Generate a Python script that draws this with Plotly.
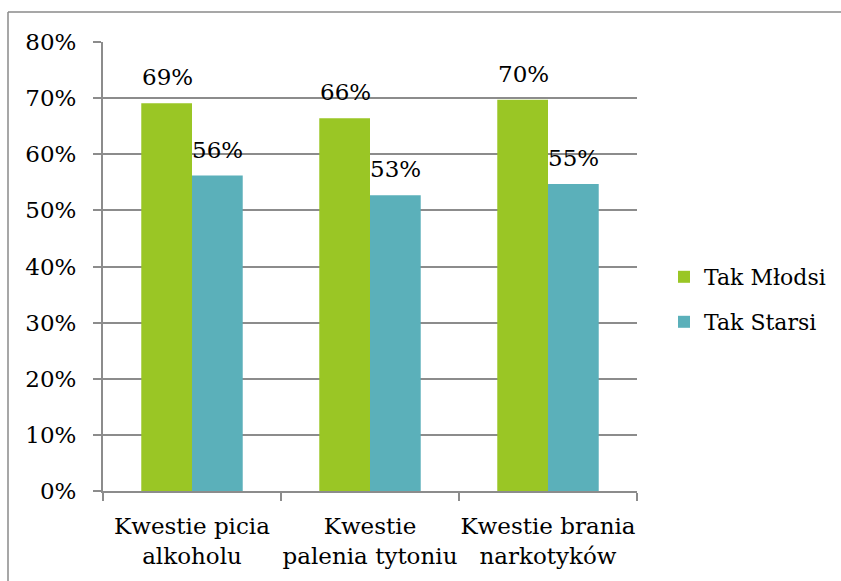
import plotly.graph_objects as go

categories = ["Kwestie picia<br>alkoholu", "Kwestie<br>palenia tytoniu", "Kwestie brania<br>narkotyków"]
tak_mlodsi = [0.691, 0.664, 0.697]
tak_starsi = [0.562, 0.527, 0.547]
y_ticks = [0, 0.1, 0.2, 0.3, 0.4, 0.5, 0.6, 0.7, 0.8]

W, H = 841, 581
L, R, T, B = 103, 637, 42, 491  # plot area in pixels
FONT = "DejaVu Serif"
FS = 23
GREEN = "#9AC625"
TEAL = "#5BB0BA"
GRID = "#8C8C8C"

fig = go.Figure()
fig.add_trace(go.Bar(x=categories, y=tak_mlodsi, name="Tak Młodsi",
                     marker=dict(color=GREEN, line=dict(width=0)), legend="legend"))
fig.add_trace(go.Bar(x=categories, y=tak_starsi, name="Tak Starsi",
                     marker=dict(color=TEAL, line=dict(width=0)), legend="legend2"))

# value labels above each bar
annotations = []
for vals, shift in ((tak_mlodsi, -25), (tak_starsi, 25)):
    for c, v in zip(categories, vals):
        annotations.append(dict(x=c, y=v, xref="x", yref="y", text=f"{v:.0%}",
                                showarrow=False, xshift=shift, yanchor="bottom", yshift=11,
                                font=dict(family=FONT, size=FS, color="black")))

def px_x(p):
    return (p - L) / (R - L)

def px_y(p):
    return (B - p) / (B - T)

# outer chart border (top and left edges visible)
shapes = [
    dict(type="line", xref="paper", yref="paper", x0=px_x(8), x1=px_x(W + 5), y0=px_y(12), y1=px_y(12),
         line=dict(color="#8A8A8A", width=1.5)),
    dict(type="line", xref="paper", yref="paper", x0=px_x(8), x1=px_x(8), y0=px_y(12), y1=px_y(H + 5),
         line=dict(color="#8A8A8A", width=1.5)),
]

fig.update_layout(
    width=W, height=H,
    margin=dict(l=L, r=W - R, t=T, b=H - B, autoexpand=False),
    paper_bgcolor="white", plot_bgcolor="white",
    font=dict(family=FONT, size=FS, color="black"),
    barmode="group", bargap=0.43, bargroupgap=0,
    showlegend=True,
    legend=dict(x=px_x(664), y=px_y(277), xanchor="left", yanchor="middle",
                font=dict(family=FONT, size=FS - 1), bgcolor="rgba(0,0,0,0)"),
    legend2=dict(x=px_x(664), y=px_y(322), xanchor="left", yanchor="middle",
                 font=dict(family=FONT, size=FS - 1), bgcolor="rgba(0,0,0,0)"),
    annotations=annotations,
    shapes=shapes,
)
fig.update_xaxes(type="category", tickson="boundaries", ticks="outside", ticklen=8, tickwidth=2,
                 tickcolor=GRID, showline=True, linecolor=GRID, linewidth=2, tickangle=0,
                 automargin=False, tickfont=dict(family=FONT, size=FS), showgrid=False,
                 ticklabelstandoff=13)
fig.update_yaxes(range=[0, 0.8], tickvals=y_ticks, tickformat=".0%", ticks="outside", ticklen=8,
                 tickwidth=2, tickcolor=GRID, showline=True, linecolor=GRID, linewidth=2,
                 showgrid=True, gridcolor=GRID, gridwidth=2, zeroline=False, automargin=False,
                 tickfont=dict(family=FONT, size=FS), ticklabelstandoff=12)

fig.write_html("out.html")
